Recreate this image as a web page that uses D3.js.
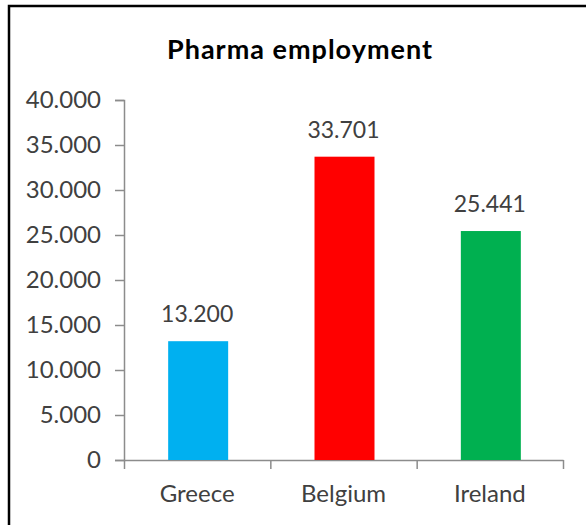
<!DOCTYPE html>
<html>
<head>
<meta charset="utf-8">
<script src="https://cdn.jsdelivr.net/npm/d3@7"></script>
<style>
  html, body { margin: 0; padding: 0; background: #fff; }
  svg { display: block; }
  text { font-family: Lato, "Open Sans", sans-serif; }
</style>
</head>
<body>
<svg id="chart" width="586" height="525"></svg>
<script>
const categories = ["Greece", "Belgium", "Ireland"];
const values = [13200, 33701, 25441];
const colors = ["#00B0F0", "#FF0000", "#00B050"];
const yTicks = [0, 5000, 10000, 15000, 20000, 25000, 30000, 35000, 40000];
const title = "Pharma employment";

const svg = d3.select("#chart");
const plot = { left: 124, right: 563, top: 100, bottom: 460 };

// frame
svg.append("rect")
  .attr("x", 9).attr("y", 6)
  .attr("width", 620).attr("height", 560)
  .attr("fill", "none").attr("stroke", "#000").attr("stroke-width", 2.5);

// title
svg.append("text")
  .attr("x", 300).attr("y", 59)
  .attr("text-anchor", "middle")
  .attr("font-weight", "bold")
  .attr("font-size", 27)
  .attr("letter-spacing", 1)
  .attr("fill", "#000")
  .text(title);

const fmt = v => d3.format(",")(v).replace(/,/g, ".");

const y = d3.scaleLinear().domain([0, 40000]).range([plot.bottom, plot.top]);
const x = d3.scaleBand().domain(categories).range([plot.left, plot.right]).paddingInner(0).paddingOuter(0);
const xEdges = d3.scaleLinear().domain([0, categories.length]).range([plot.left, plot.right]);

const axisColor = "#8c8c8c";
const textColor = "#404040";

// y axis
const yAxis = svg.append("g")
  .attr("transform", `translate(${plot.left},0)`)
  .call(d3.axisLeft(y).tickValues(yTicks).tickFormat(fmt).tickSize(9).tickPadding(14));
yAxis.select(".domain").attr("stroke", axisColor).attr("stroke-width", 1.5);
yAxis.selectAll(".tick line").attr("stroke", axisColor).attr("stroke-width", 1.5);
yAxis.selectAll(".tick text").attr("fill", textColor).attr("font-size", 24).attr("font-family", "Lato, sans-serif");

// x axis: boundary ticks
const xAxisEdges = svg.append("g")
  .attr("transform", `translate(0,${plot.bottom})`)
  .call(d3.axisBottom(xEdges).tickValues(d3.range(categories.length + 1)).tickFormat("").tickSize(9).tickSizeOuter(0));
xAxisEdges.select(".domain").attr("stroke", axisColor).attr("stroke-width", 1.5);
xAxisEdges.selectAll(".tick line").attr("stroke", axisColor).attr("stroke-width", 1.5);

// x axis: category labels
const xAxisLabels = svg.append("g")
  .attr("transform", `translate(0,${plot.bottom})`)
  .call(d3.axisBottom(x).tickSize(0).tickPadding(25));
xAxisLabels.select(".domain").remove();
xAxisLabels.selectAll(".tick text").attr("fill", textColor).attr("font-size", 24).attr("font-family", "Lato, sans-serif");

// bars
const barW = x.bandwidth() * 0.41;
svg.append("g").selectAll("rect")
  .data(categories)
  .join("rect")
  .attr("x", (d) => x(d) + x.bandwidth() / 2 - barW / 2 + 1)
  .attr("y", (d, i) => y(values[i]))
  .attr("width", barW)
  .attr("height", (d, i) => plot.bottom - y(values[i]))
  .attr("fill", (d, i) => colors[i]);

// value labels
svg.append("g").selectAll("text")
  .data(categories)
  .join("text")
  .attr("x", (d) => x(d) + x.bandwidth() / 2)
  .attr("y", (d, i) => y(values[i]) - 19)
  .attr("text-anchor", "middle")
  .attr("font-size", 23)
  .attr("fill", textColor)
  .text((d, i) => fmt(values[i]));
</script>
</body>
</html>
